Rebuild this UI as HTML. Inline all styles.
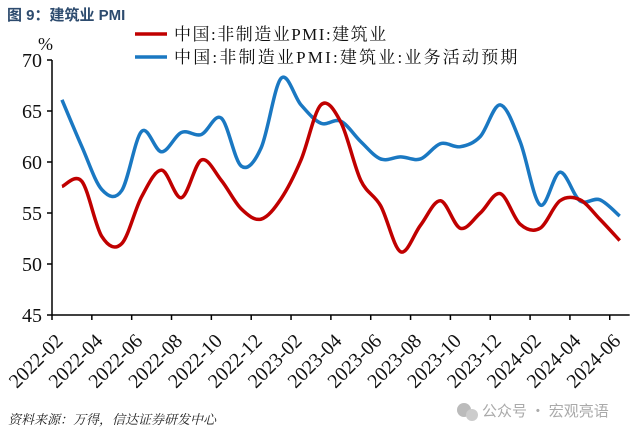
<!DOCTYPE html>
<html><head><meta charset="utf-8"><style>
body{margin:0;background:#fff;width:640px;height:438px;overflow:hidden}
svg{display:block}
</style></head><body>
<svg id="chart" width="640" height="438" xmlns="http://www.w3.org/2000/svg">
<text x="7" y="20" font-family="Liberation Sans, 'Noto Sans CJK SC', sans-serif" font-weight="bold" font-size="15" fill="#2d4b6e">图 9：建筑业 PMI</text>
<text x="38" y="50" font-family="Liberation Serif, serif" font-size="18" fill="#111">%</text>
<g>
<line x1="135" y1="34" x2="167" y2="34" stroke="#c00000" stroke-width="3.5"/>
<text x="174" y="40" font-family="Liberation Serif, 'Noto Serif CJK SC', serif" font-size="17" letter-spacing="1.5" fill="#111">中国:非制造业PMI:建筑业</text>
<line x1="135" y1="57" x2="167" y2="57" stroke="#1a78c2" stroke-width="3.5"/>
<text x="174" y="63" font-family="Liberation Serif, 'Noto Serif CJK SC', serif" font-size="17" letter-spacing="2.2" fill="#111">中国:非制造业PMI:建筑业:业务活动预期</text>
</g>
<g id="axes"></g>
<g id="series"></g>
<text x="8" y="424" font-family="Liberation Serif, 'Noto Serif CJK SC', serif" font-style="italic" font-size="13" fill="#222">资料来源：万得，信达证券研发中心</text>
<g>
<circle cx="464" cy="410" r="7" fill="#bbb"/><circle cx="472" cy="415" r="6" fill="#ccc"/>
<text x="482" y="416" font-family="'Noto Sans CJK SC', sans-serif" font-size="15" fill="#aaa">公众号 · 宏观亮语</text>
</g>
</svg>
<script>
const categories=["2022-02","2022-03","2022-04","2022-05","2022-06","2022-07","2022-08","2022-09","2022-10","2022-11","2022-12","2023-01","2023-02","2023-03","2023-04","2023-05","2023-06","2023-07","2023-08","2023-09","2023-10","2023-11","2023-12","2024-01","2024-02","2024-03","2024-04","2024-05","2024-06"];
const pmiValues=[57.6,58.1,52.7,52.0,56.6,59.2,56.5,60.2,58.2,55.4,54.4,56.4,60.2,65.6,63.9,58.2,55.7,51.2,53.8,56.2,53.5,55.0,56.9,53.9,53.5,56.2,56.3,54.4,52.3];
const expectationValues=[66.1,61.5,57.3,57.2,63.0,61.0,62.9,62.7,64.3,59.6,61.4,68.2,65.6,63.8,64.0,62.0,60.3,60.5,60.3,61.8,61.5,62.5,65.6,62.0,55.8,59.0,56.2,56.3,54.7];
const yTicks=[45,50,55,60,65,70];
const NS="http://www.w3.org/2000/svg";
const X0=52,BW=19.92,Y0=315,YS=10.2;
const xPos=i=>X0+BW*(i+0.5);
const yPos=v=>Y0-(v-45)*YS;
const axes=document.getElementById('axes');
function mk(t,a,p){const e=document.createElementNS(NS,t);for(const k in a)e.setAttribute(k,a[k]);p.appendChild(e);return e;}
let l=mk('line',{x1:X0,y1:yPos(70),x2:X0,y2:Y0,stroke:'#000','stroke-width':1.5},axes);


l=mk('line',{x1:X0,y1:Y0,x2:X0+BW*29,y2:Y0,stroke:'#000','stroke-width':1.5},axes);


yTicks.forEach(v=>{
 const y=yPos(v);
 mk('line',{x1:X0-5,y1:y,x2:X0,y2:y,stroke:'#000','stroke-width':1.5},axes);
 const t=mk('text',{x:42,y:y+7,'text-anchor':'end','font-family':'Liberation Serif, serif','font-size':20,fill:'#111'},axes);
 t.textContent=v;
 
 
});
categories.forEach((c,i)=>{
 if(i%2)return;
 const tx=X0+BW*i;
 mk('line',{x1:tx,y1:Y0,x2:tx,y2:Y0+5,stroke:'#000','stroke-width':1.5},axes);
 const cx=xPos(i)+2,cy=Y0+27;
 const t=mk('text',{x:cx,y:cy,'text-anchor':'end','font-family':'Liberation Serif, serif','font-size':20,fill:'#111',transform:`rotate(-45 ${cx} ${cy})`},axes);
 t.textContent=c;
 
 
});
function smooth(vals){
 const p=vals.map((v,i)=>[xPos(i),yPos(v)]);
 let d=`M${p[0][0]},${p[0][1]}`;
 for(let i=0;i<p.length-1;i++){
  const p0=p[i-1]||p[i],p1=p[i],p2=p[i+1],p3=p[i+2]||p2,k=1/6;
  d+=` C${p1[0]+(p2[0]-p0[0])*k},${p1[1]+(p2[1]-p0[1])*k} ${p2[0]-(p3[0]-p1[0])*k},${p2[1]-(p3[1]-p1[1])*k} ${p2[0]},${p2[1]}`;
 }
 return d;
}
const sg=document.getElementById('series');
let s=mk('path',{d:smooth(expectationValues),fill:'none',stroke:'#1a78c2','stroke-width':3.5,'stroke-linejoin':'round'},sg);


s=mk('path',{d:smooth(pmiValues),fill:'none',stroke:'#c00000','stroke-width':3.5,'stroke-linejoin':'round'},sg);


</script>
</body></html>
